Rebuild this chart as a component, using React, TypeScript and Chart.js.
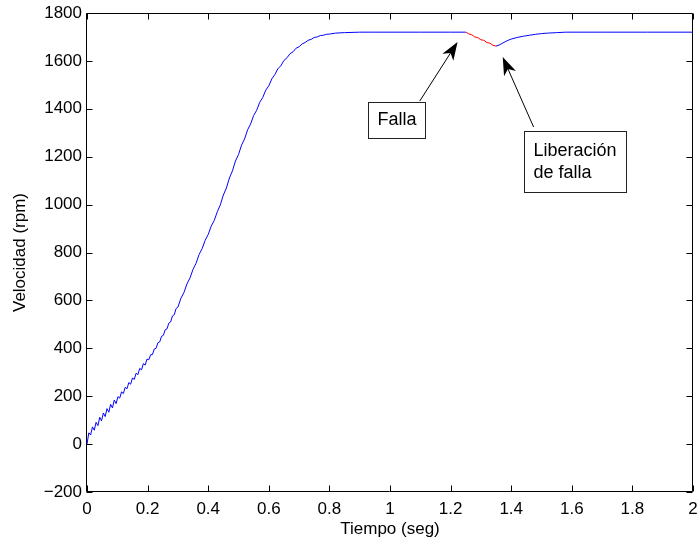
import { useEffect, useRef } from "react";
import { Chart, registerables } from "chart.js";

Chart.register(...registerables);

// ---- Data ----
const tiempoArranque = [
  0, 0.006, 0.012, 0.018, 0.024, 0.03, 0.036, 0.042, 0.048, 0.054, 0.06, 0.066, 0.072, 0.078, 0.084, 0.09, 0.096,
  0.102, 0.108, 0.114, 0.12, 0.126, 0.132, 0.138, 0.144, 0.15, 0.156, 0.162, 0.168, 0.174, 0.18, 0.186, 0.192, 0.198,
  0.204, 0.21, 0.216, 0.222, 0.228, 0.234, 0.24, 0.246, 0.252, 0.258, 0.264, 0.27, 0.276, 0.282, 0.288, 0.294, 0.3,
  0.31, 0.32, 0.33, 0.34, 0.35, 0.36, 0.37, 0.38, 0.39, 0.4, 0.41, 0.42, 0.43, 0.44, 0.45, 0.46, 0.47, 0.48, 0.49, 0.5,
  0.51, 0.52, 0.53, 0.54, 0.55, 0.56, 0.57, 0.58, 0.59, 0.6, 0.61, 0.62, 0.63, 0.64, 0.65, 0.66, 0.67, 0.68, 0.69, 0.7,
  0.71, 0.72, 0.73, 0.74, 0.75, 0.76, 0.77, 0.78, 0.79, 0.8, 0.82, 0.85, 0.9, 0.95, 1.0, 1.1, 1.2, 1.25,
];
const velocidadArranque = [
  0, 47, 38, 72, 58, 91, 77, 112, 97, 130, 115, 148, 133, 166, 151, 184, 169,
  198, 192, 218, 211, 237, 231, 257, 250, 276, 270, 296, 290, 316, 310, 336, 330, 355,
  352, 373, 374, 397, 400, 423, 427, 450, 454, 477, 481, 505, 510, 535, 540, 566, 572,
  609, 633, 669, 694, 730, 755, 792, 816, 851, 875, 910, 934, 970, 999, 1040, 1069, 1111, 1141, 1182, 1209,
  1248, 1274, 1312, 1337, 1372, 1394, 1427, 1447, 1478, 1496, 1525, 1543, 1567, 1580, 1602, 1613, 1630, 1638, 1653, 1659,
  1671, 1677, 1686, 1690, 1698, 1700, 1706, 1707, 1711, 1712, 1716, 1718, 1720, 1720, 1720, 1720, 1720, 1720,
];
const tiempoFalla = [1.25, 1.26, 1.27, 1.28, 1.29, 1.3, 1.31, 1.32, 1.33, 1.34, 1.35];
const velocidadFalla = [1720, 1713, 1709, 1700, 1697, 1688, 1686, 1676, 1674, 1665, 1662];
const tiempoRecuperacion = [1.35, 1.36, 1.37, 1.38, 1.39, 1.4, 1.42, 1.44, 1.46, 1.48, 1.5, 1.52, 1.55, 1.58, 1.7, 1.85, 2.0];
const velocidadRecuperacion = [1662, 1666, 1673, 1680, 1686, 1691, 1698, 1703, 1707, 1711, 1714, 1716, 1718, 1720, 1720, 1720, 1720];

const ticksX = [0, 0.2, 0.4, 0.6, 0.8, 1, 1.2, 1.4, 1.6, 1.8, 2];
const ticksY = [-200, 0, 200, 400, 600, 800, 1000, 1200, 1400, 1600, 1800];
const etiquetaX = "Tiempo (seg)";
const etiquetaY = "Velocidad (rpm)";
const textoFalla = ["Falla"];
const textoLiberacion = ["Liberación", "de falla"];

// ---- Styling / layout ----
const FONT = "'Liberation Sans', Arial, Helvetica, sans-serif";
const AZUL = "#0000ff";
const ROJO = "#ff0000";

const anotaciones = [
  { texto: textoFalla, caja: [0.929, 1.114, 1428, 1278], desde: [1.098, 1432], hasta: [1.223, 1679], alinear: "center" },
  { texto: textoLiberacion, caja: [1.441, 1.779, 1307, 1052], desde: [1.474, 1324], hasta: [1.372, 1616], alinear: "left" },
];

const pares = (xs: number[], ys: number[]) => xs.map((x, i) => ({ x, y: ys[i] }));

const marcoPlugin = {
  id: "marco",
  afterDraw(chart: any) {
    const { ctx, chartArea, scales } = chart;
    const { left, right, top, bottom } = chartArea;
    const sx = scales.x;
    const sy = scales.y;
    ctx.save();
    ctx.strokeStyle = "#000";
    ctx.lineWidth = 1;
    const L = Math.round(left) - 0.5;
    const R = Math.round(right) - 0.5;
    const T = Math.round(top) + 0.5;
    const B = Math.round(bottom) - 0.5;
    ctx.beginPath();
    ctx.rect(L, T, R - L, B - T);
    ctx.stroke();
    const tl = 6;
    ctx.beginPath();
    ticksX.forEach((v) => {
      const px = Math.round(sx.getPixelForValue(v)) + 0.5;
      ctx.moveTo(px, B);
      ctx.lineTo(px, B - tl);
      ctx.moveTo(px, T);
      ctx.lineTo(px, T + tl);
    });
    ticksY.forEach((v) => {
      const py = Math.round(sy.getPixelForValue(v)) + 0.5;
      ctx.moveTo(L, py);
      ctx.lineTo(L + tl, py);
      ctx.moveTo(R, py);
      ctx.lineTo(R - tl, py);
    });
    ctx.stroke();

    // annotations
    anotaciones.forEach((a) => {
      const x0 = sx.getPixelForValue(a.desde[0]);
      const y0 = sy.getPixelForValue(a.desde[1]);
      const x1 = sx.getPixelForValue(a.hasta[0]);
      const y1 = sy.getPixelForValue(a.hasta[1]);
      const ang = Math.atan2(y1 - y0, x1 - x0);
      const len = 18;
      const hw = 6.5;
      const bx = x1 - len * Math.cos(ang);
      const by = y1 - len * Math.sin(ang);
      const nx = x1 - len * 0.72 * Math.cos(ang);
      const ny = y1 - len * 0.72 * Math.sin(ang);
      ctx.strokeStyle = "#000";
      ctx.lineWidth = 1;
      ctx.beginPath();
      ctx.moveTo(x0, y0);
      ctx.lineTo(nx, ny);
      ctx.stroke();
      ctx.fillStyle = "#000";
      ctx.beginPath();
      ctx.moveTo(x1, y1);
      ctx.lineTo(bx + hw * Math.sin(ang), by - hw * Math.cos(ang));
      ctx.lineTo(nx, ny);
      ctx.lineTo(bx - hw * Math.sin(ang), by + hw * Math.cos(ang));
      ctx.closePath();
      ctx.fill();

      const cl = Math.round(sx.getPixelForValue(a.caja[0])) + 0.5;
      const cr = Math.round(sx.getPixelForValue(a.caja[1])) + 0.5;
      const ct = Math.round(sy.getPixelForValue(a.caja[2])) + 0.5;
      const cb = Math.round(sy.getPixelForValue(a.caja[3])) + 0.5;
      ctx.fillStyle = "#fff";
      ctx.fillRect(cl, ct, cr - cl, cb - ct);
      ctx.strokeStyle = "#222";
      ctx.strokeRect(cl, ct, cr - cl, cb - ct);
      ctx.fillStyle = "#000";
      ctx.font = `18px ${FONT}`;
      ctx.textBaseline = "middle";
      const lh = 22;
      const n = a.texto.length;
      const cy = (ct + cb) / 2;
      a.texto.forEach((t: string, i: number) => {
        const yy = cy + (i - (n - 1) / 2) * lh;
        if (a.alinear === "center") {
          ctx.textAlign = "center";
          ctx.fillText(t, (cl + cr) / 2, yy);
        } else {
          ctx.textAlign = "left";
          ctx.fillText(t, cl + 9, yy);
        }
      });
    });
    ctx.restore();
  },
};

export default function App() {
  const ref = useRef<HTMLCanvasElement | null>(null);
  useEffect(() => {
    document.body.style.margin = "0";
    const canvas = ref.current;
    if (!canvas) return;
    const chart = new Chart(canvas, {
      type: "line",
      data: {
        datasets: [
          {
            data: pares(tiempoArranque, velocidadArranque),
            borderColor: AZUL,
            borderWidth: 1,
            pointRadius: 0,
            tension: 0,
          },
          {
            data: pares(tiempoFalla, velocidadFalla),
            borderColor: ROJO,
            borderWidth: 1,
            pointRadius: 0,
            tension: 0,
          },
          {
            data: pares(tiempoRecuperacion, velocidadRecuperacion),
            borderColor: AZUL,
            borderWidth: 1,
            pointRadius: 0,
            tension: 0,
          },
        ],
      } as any,
      options: {
        animation: false,
        responsive: false,
        devicePixelRatio: 1,
        events: [],
        layout: { padding: { top: 13, right: 6, left: 0, bottom: 0 } },
        plugins: { legend: { display: false }, tooltip: { enabled: false } },
        scales: {
          x: {
            type: "linear",
            min: 0,
            max: 2,
            afterBuildTicks: (s: any) => {
              s.ticks = ticksX.map((v) => ({ value: v }));
            },
            afterFit: (s: any) => {
              s.height = 52;
              s.paddingLeft = 0;
              s.paddingRight = 0;
            },
            grid: { display: false, drawTicks: false },
            border: { display: false },
            ticks: {
              color: "#000",
              padding: 7,
              maxRotation: 0,
              autoSkip: false,
              font: { family: FONT, size: 17 },
              callback: (v: any) => String(Math.round(Number(v) * 10) / 10),
            },
            title: {
              display: true,
              text: etiquetaX,
              color: "#000",
              font: { family: FONT, size: 17 },
              padding: { top: 0, bottom: 4 },
            },
          },
          y: {
            type: "linear",
            min: -200,
            max: 1800,
            afterBuildTicks: (s: any) => {
              s.ticks = ticksY.map((v) => ({ value: v }));
            },
            afterFit: (s: any) => {
              s.width = 87;
              s.paddingTop = 0;
              s.paddingBottom = 0;
            },
            grid: { display: false, drawTicks: false },
            border: { display: false },
            ticks: {
              color: "#000",
              padding: 5,
              autoSkip: false,
              font: { family: FONT, size: 17 },
              callback: (v: any) => (Number(v) < 0 ? "\u2212" + String(Math.abs(Number(v))) : String(v)),
            },
            title: {
              display: true,
              text: etiquetaY,
              color: "#000",
              font: { family: FONT, size: 17 },
              padding: { top: 10, bottom: 0 },
            },
          },
        },
      } as any,
      plugins: [marcoPlugin],
    });
    return () => chart.destroy();
  }, []);
  return (
    <div style={{ width: 699, height: 544, background: "#fff" }}>
      <canvas ref={ref} width={699} height={544} style={{ display: "block" }} />
    </div>
  );
}
